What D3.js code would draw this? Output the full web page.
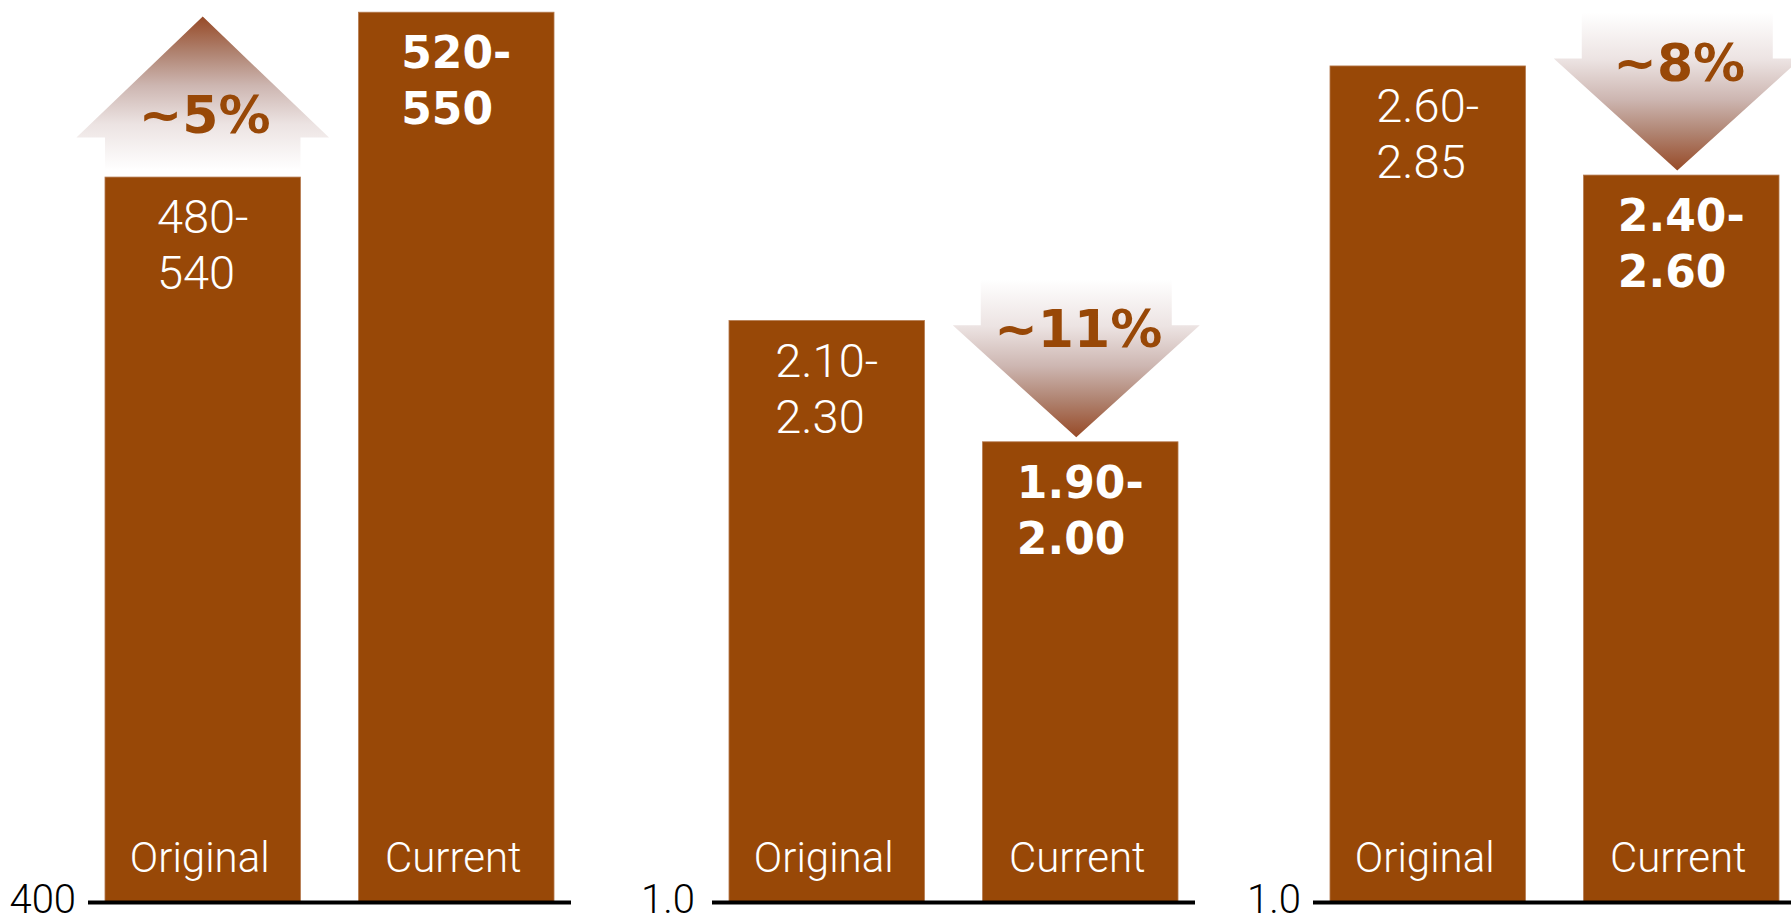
<!DOCTYPE html>
<html>
<head>
<meta charset="utf-8">
<script src="https://cdn.jsdelivr.net/npm/d3@7/dist/d3.min.js"></script>
<style>
  html, body { margin: 0; padding: 0; background: #ffffff; }
  svg { display: block; }
</style>
</head>
<body>
<svg id="chart" width="1791" height="922"></svg>
<script>
// ---- data ---------------------------------------------------------------
const categories = ["Original", "Current"];

// Estimated ranges, one entry per panel
const originalLow  = [480, 2.10, 2.60];
const originalHigh = [540, 2.30, 2.85];
const currentLow   = [520, 1.90, 2.40];
const currentHigh  = [550, 2.00, 2.60];

// Baseline value of each panel's axis and its tick label
const baseValues     = [400, 1.0, 1.0];
const baseTickLabels = ["400", "1.0", "1.0"];

// Number of decimals shown in the range labels
const labelDecimals = [0, 2, 2];

// ---- layout -------------------------------------------------------------
const baseY = 902.5;
const panelX = [[88, 571], [712, 1195], [1313, 1796]];
const panelTop = [536.85, 2.861, 2.861];   // value that reaches the top edge
const tickPad = [12, 17, 12];

const barColor = "#984807";
const labelFont = "Roboto, 'Liberation Sans', Arial, sans-serif";
const boldFont = "'DejaVu Sans', Verdana, sans-serif";

const svg = d3.select("#chart");
const defs = svg.append("defs");

// arrow fill: white at the tail, brown at the tip
const gradStops = [
  [0.00, "#ffffff"],
  [0.30, "#ece3e2"],
  [0.55, "#cdb6b1"],
  [0.76, "#b08472"],
  [1.00, "#974a27"]
];

baseValues.forEach((base, i) => {
  const g = svg.append("g").attr("class", "panel");
  const [x0, x1] = panelX[i];

  const x = d3.scaleBand()
    .domain(categories)
    .range([x0, x1])
    .paddingInner(0.229)
    .paddingOuter(0.067);

  const y = d3.scaleLinear()
    .domain([base, panelTop[i]])
    .range([baseY, 0]);

  const fmt = d3.format("." + labelDecimals[i] + "f");
  const rows = [
    { cat: categories[0], lo: originalLow[i], hi: originalHigh[i], bold: false },
    { cat: categories[1], lo: currentLow[i],  hi: currentHigh[i],  bold: true }
  ];
  rows.forEach(r => r.mid = (r.lo + r.hi) / 2);

  // bars
  g.selectAll("rect.bar")
    .data(rows)
    .join("rect")
    .attr("class", "bar")
    .attr("x", d => x(d.cat))
    .attr("y", d => y(d.mid))
    .attr("width", x.bandwidth())
    .attr("height", d => y(base) - y(d.mid))
    .attr("fill", barColor)
    .attr("stroke", "#b57a4f")
    .attr("stroke-width", 0.8);

  // change arrow
  const orig = rows[0], curr = rows[1];
  const change = (curr.mid - orig.mid) / orig.mid;
  const up = change > 0;
  const bw = x.bandwidth();
  let cx, tipY, headY, endY, shaftHalf, headHalf;
  if (up) {
    cx = x(orig.cat) + bw / 2;
    tipY = y(curr.mid) + 4.4;
    headY = tipY + 121;
    endY = y(orig.mid) - 7;
    shaftHalf = bw / 2;
    headHalf = 126.3;
  } else {
    cx = x(curr.cat) + bw / 2 - 4;
    tipY = y(curr.mid) - 4.5;
    headY = tipY - 112;
    endY = headY - 46;
    shaftHalf = 95.5;
    headHalf = 123.5;
  }
  const gid = "arrowGrad" + i;
  const lg = defs.append("linearGradient")
    .attr("id", gid)
    .attr("gradientUnits", "userSpaceOnUse")
    .attr("x1", 0).attr("y1", endY)
    .attr("x2", 0).attr("y2", tipY);
  lg.selectAll("stop").data(gradStops).join("stop")
    .attr("offset", d => d[0])
    .attr("stop-color", d => d[1]);

  const arrow = d3.path();
  arrow.moveTo(cx, tipY);
  arrow.lineTo(cx + headHalf, headY);
  arrow.lineTo(cx + shaftHalf, headY);
  arrow.lineTo(cx + shaftHalf, endY);
  arrow.lineTo(cx - shaftHalf, endY);
  arrow.lineTo(cx - shaftHalf, headY);
  arrow.lineTo(cx - headHalf, headY);
  arrow.closePath();
  g.append("path").attr("d", arrow.toString()).attr("fill", `url(#${gid})`);

  g.append("text")
    .attr("x", cx + 2)
    .attr("y", up ? headY - 4.4 : headY + 22)
    .attr("text-anchor", "middle")
    .attr("font-family", boldFont)
    .attr("font-weight", "bold")
    .attr("font-size", 52)
    .attr("fill", barColor)
    .text("~" + Math.round(Math.abs(change) * 100) + "%");

  // range labels inside the bars, left-aligned block centred on the bar
  rows.forEach(r => {
    const cxBar = x(r.cat) + bw / 2;
    const top = y(r.mid);
    const lines = [fmt(r.lo) + "-", fmt(r.hi)];
    const texts = lines.map((t, k) => g.append("text")
      .attr("y", top + 56 + k * 56)
      .attr("font-family", r.bold ? boldFont : labelFont)
      .attr("font-weight", r.bold ? "bold" : 300)
      .attr("font-size", r.bold ? 44 : 47)
      .attr("fill", "#ffffff")
      .text(t));
    const w = texts[0].node().getComputedTextLength();
    texts.forEach(t => t.attr("x", cxBar - w / 2));
  });

  // category labels at the foot of each bar
  g.selectAll("text.cat")
    .data(rows)
    .join("text")
    .attr("class", "cat")
    .attr("x", d => x(d.cat) + bw / 2 - 3)
    .attr("y", 872)
    .attr("text-anchor", "middle")
    .attr("font-family", labelFont)
    .attr("font-weight", 300)
    .attr("font-size", 42)
    .attr("fill", "#ffffff")
    .text(d => d.cat);

  // baseline and its single tick label
  g.append("line")
    .attr("x1", x0).attr("x2", x1)
    .attr("y1", baseY).attr("y2", baseY)
    .attr("stroke", "#000000")
    .attr("stroke-width", 4);

  const axis = d3.axisLeft(y)
    .tickValues([base])
    .tickFormat(() => baseTickLabels[i])
    .tickSize(0)
    .tickPadding(tickPad[i]);
  const ag = g.append("g").attr("transform", `translate(${x0},0)`).call(axis);
  ag.select(".domain").remove();
  ag.selectAll("text")
    .attr("dy", "0.24em")
    .attr("font-family", labelFont)
    .attr("font-weight", 300)
    .attr("font-size", 40)
    .attr("fill", "#000000");
});
</script>
</body>
</html>
